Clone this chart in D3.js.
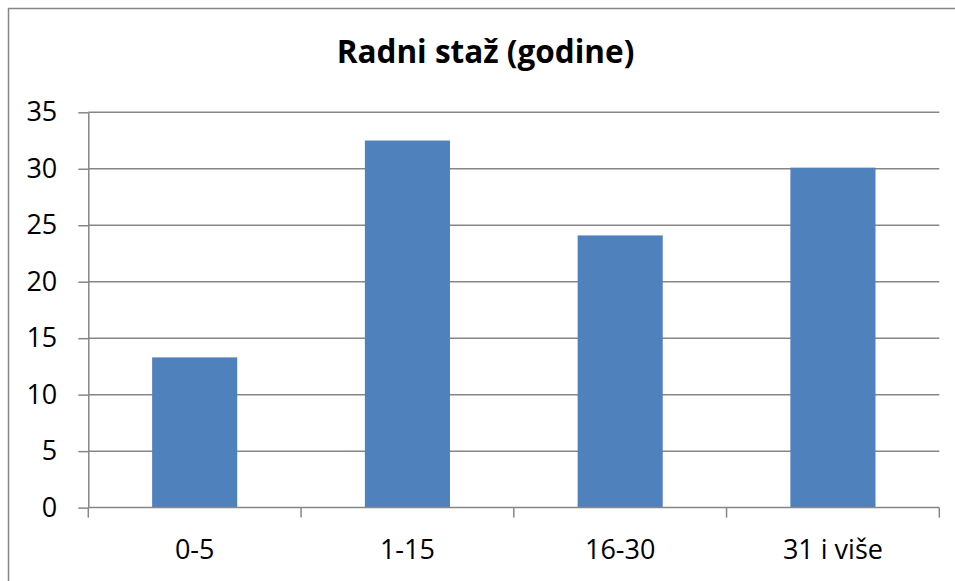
<!DOCTYPE html>
<html>
<head>
<meta charset="utf-8">
<script src="https://cdn.jsdelivr.net/npm/d3@7"></script>
<style>
  html, body { margin: 0; padding: 0; background: #ffffff; }
  svg { display: block; }
  text { font-family: "Open Sans", "Liberation Sans", sans-serif; fill: #000; }
</style>
</head>
<body>
<svg id="chart" width="955" height="581"></svg>
<script>
// Years of service distribution
const title = "Radni staž (godine)";
const categories = ["0-5", "1-15", "16-30", "31 i više"];
const values = [13.3, 32.5, 24.1, 30.1];
const yTicks = [0, 5, 10, 15, 20, 25, 30, 35];

const W = 955, H = 581;
const plot = { left: 88.3, right: 939.3, top: 112.3, bottom: 507.6 };
const gridColor = "#868686";
const barColor = "#4f81bd";

const svg = d3.select("#chart");

// outer chart frame
svg.append("rect")
  .attr("x", 8.5).attr("y", 8.5)
  .attr("width", W + 10).attr("height", H + 10)
  .attr("fill", "none")
  .attr("stroke", gridColor)
  .attr("stroke-width", 1.5);

// title
svg.append("text")
  .attr("x", 485.5).attr("y", 63)
  .attr("text-anchor", "middle")
  .style("font-size", "31.5px")
  .style("font-weight", "bold")
  .text(title);

const x = d3.scaleBand()
  .domain(categories)
  .range([plot.left, plot.right])
  .paddingInner(0.6)
  .paddingOuter(0.3);

const y = d3.scaleLinear()
  .domain([0, 35])
  .range([plot.bottom, plot.top]);

// horizontal gridlines
svg.append("g")
  .selectAll("line")
  .data(yTicks.filter(d => d > 0))
  .join("line")
  .attr("x1", plot.left).attr("x2", plot.right)
  .attr("y1", d => y(d)).attr("y2", d => y(d))
  .attr("stroke", gridColor)
  .attr("stroke-width", 1.5);

// bars
svg.append("g")
  .selectAll("rect")
  .data(values)
  .join("rect")
  .attr("x", (d, i) => x(categories[i]))
  .attr("width", x.bandwidth())
  .attr("y", d => y(d))
  .attr("height", d => y(0) - y(d))
  .attr("fill", barColor);

// y axis
const yAxis = svg.append("g")
  .attr("transform", `translate(${plot.left},0)`)
  .call(d3.axisLeft(y).tickValues(yTicks).tickSize(10).tickPadding(21).tickSizeOuter(0));
yAxis.select(".domain").attr("stroke", gridColor).attr("stroke-width", 1.5);
yAxis.selectAll(".tick line").attr("stroke", gridColor).attr("stroke-width", 1.5);
yAxis.selectAll(".tick text")
  .style("font-size", "27px")
  .style("font-family", "'Open Sans', sans-serif")
  .attr("fill", "#000");

// x axis with ticks at category boundaries
const xAxisG = svg.append("g")
  .attr("transform", `translate(0,${plot.bottom})`);
xAxisG.append("line")
  .attr("x1", plot.left).attr("x2", plot.right)
  .attr("stroke", gridColor).attr("stroke-width", 1.5);
const step = x.step();
const bounds = d3.range(categories.length + 1).map(i => x(categories[0]) - x.step() * x.paddingOuter() + i * step);
xAxisG.selectAll("line.tk")
  .data(bounds)
  .join("line")
  .attr("class", "tk")
  .attr("x1", d => d).attr("x2", d => d)
  .attr("y1", 0).attr("y2", 10)
  .attr("stroke", gridColor).attr("stroke-width", 1.5);
xAxisG.selectAll("text")
  .data(categories)
  .join("text")
  .attr("x", d => x(d) + x.bandwidth() / 2)
  .attr("y", 51)
  .attr("text-anchor", "middle")
  .style("font-size", "27px")
  .text(d => d);
</script>
</body>
</html>
